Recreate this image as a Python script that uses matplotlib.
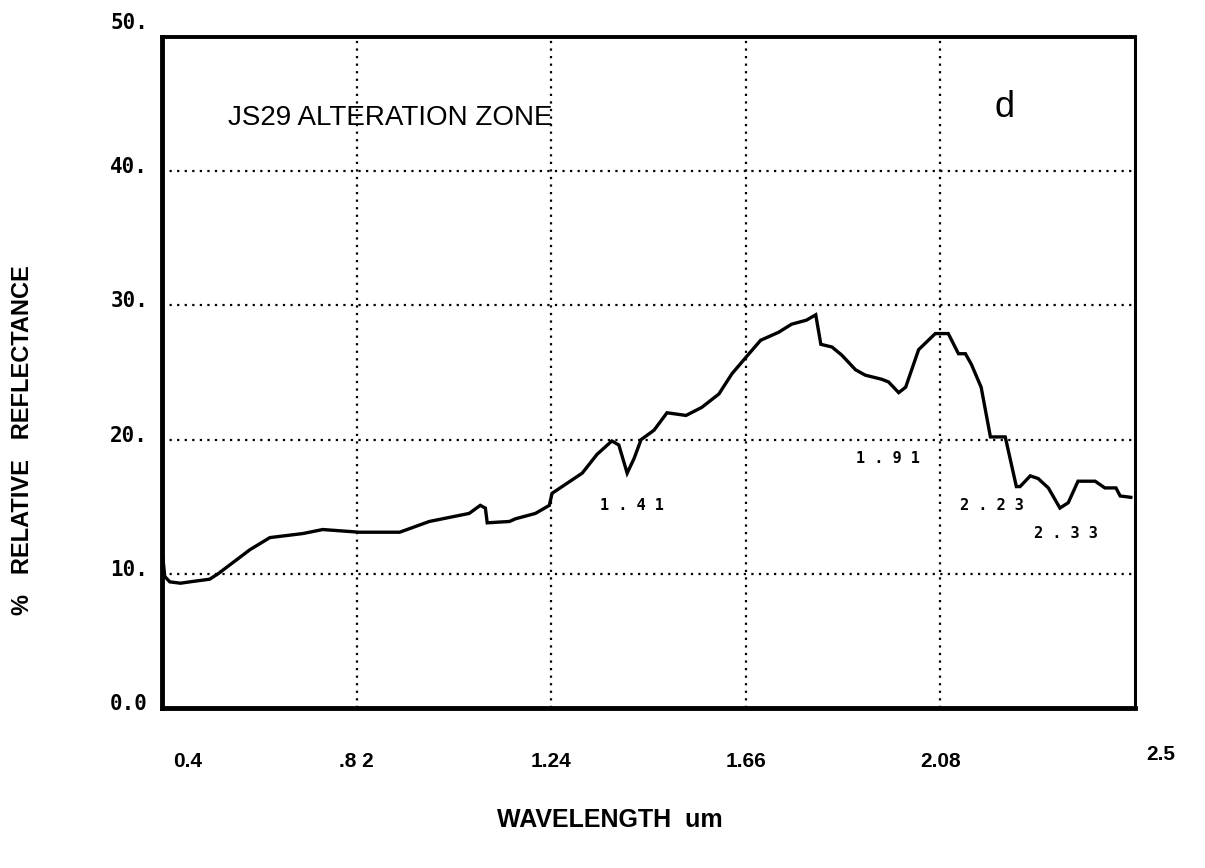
import matplotlib
matplotlib.use("Agg")
import matplotlib.pyplot as plt
import matplotlib.transforms as mtransforms

# Data (wavelength in um, % relative reflectance)
wavelength = [0.402, 0.406, 0.417, 0.440, 0.460, 0.503, 0.521, 0.590, 0.633, 0.704,
              0.747, 0.826, 0.913, 0.977, 1.063, 1.087, 1.098, 1.102, 1.150, 1.163,
              1.206, 1.236, 1.242, 1.307, 1.339, 1.371, 1.386, 1.404, 1.419, 1.434,
              1.462, 1.490, 1.531, 1.565, 1.602, 1.630, 1.662, 1.692, 1.731, 1.759,
              1.791, 1.811, 1.822, 1.846, 1.867, 1.897, 1.918, 1.953, 1.968, 1.990,
              2.005, 2.033, 2.069, 2.097, 2.119, 2.134, 2.147, 2.168, 2.188, 2.220,
              2.244, 2.252, 2.274, 2.291, 2.313, 2.338, 2.356, 2.377, 2.414, 2.435,
              2.459, 2.468, 2.491]
reflectance = [11.2, 9.8, 9.4, 9.3, 9.4, 9.6, 10.0, 11.8, 12.7, 13.0,
               13.3, 13.1, 13.1, 13.9, 14.5, 15.1, 14.9, 13.8, 13.9, 14.1,
               14.5, 15.1, 16.0, 17.5, 18.9, 19.9, 19.6, 17.5, 18.6, 20.0,
               20.7, 22.0, 21.8, 22.4, 23.4, 24.9, 26.2, 27.4, 28.0, 28.6,
               28.9, 29.3, 27.1, 26.9, 26.3, 25.2, 24.8, 24.5, 24.3, 23.5,
               23.9, 26.7, 27.9, 27.9, 26.4, 26.4, 25.6, 23.9, 20.2, 20.2,
               16.5, 16.5, 17.3, 17.1, 16.4, 14.9, 15.3, 16.9, 16.9, 16.4,
               16.4, 15.8, 15.7]

x_ticks = [0.4, 0.82, 1.24, 1.66, 2.08, 2.5]
x_tick_labels = ["0.4", ".8 2", "1.24", "1.66", "2.08", "2.5"]
y_ticks = [0, 10, 20, 30, 40, 50]
y_tick_labels = ["0.0", "10.", "20.", "30.", "40.", "50."]

feature_labels = ["1.41", "1.91", "2.23", "2.33"]
feature_pos = [(1.414, 15.1), (1.966, 18.6), (2.192, 15.1), (2.351, 13.0)]

fig = plt.figure(figsize=(12.05, 8.68), dpi=100)
ax = fig.add_axes([0.1344, 0.1843, 0.8075, 0.7731])

ax.plot(wavelength, reflectance, color="black", linewidth=2.4, solid_joinstyle="miter")

ax.set_xlim(0.4, 2.5)
ax.set_ylim(0, 50)

# grid lines (dotted)
for xv in x_ticks[1:-1]:
    ax.axvline(xv, color="black", linestyle=(0, (1, 2.4)), linewidth=1.6, zorder=0)
for yv in y_ticks[1:-1]:
    ax.axhline(yv, color="black", linestyle=(0, (1, 2.4)), linewidth=1.6, zorder=0)

ax.set_xticks(x_ticks)
ax.set_xticklabels(x_tick_labels, family="Liberation Sans", fontweight="bold", fontsize=15)
ax.set_yticks(y_ticks)
ax.set_yticklabels(y_tick_labels, family="DejaVu Sans Mono", fontweight="bold", fontsize=15)
ax.tick_params(axis="both", length=0)
ax.tick_params(axis="x", pad=32)
ax.tick_params(axis="y", pad=10)

# shift first/last x label as in the reference
labels = ax.get_xticklabels()
labels[0].set_transform(labels[0].get_transform() +
                        mtransforms.ScaledTranslation(0.26, 0, fig.dpi_scale_trans))
labels[-1].set_transform(labels[-1].get_transform() +
                         mtransforms.ScaledTranslation(0.26, 0.07, fig.dpi_scale_trans))
ylabs = ax.get_yticklabels()
for i, lab in enumerate(ylabs):
    dy = 0.16 if i == len(ylabs) - 1 else 0.06
    lab.set_transform(lab.get_transform() +
                      mtransforms.ScaledTranslation(0, dy, fig.dpi_scale_trans))

for side, lw in [("left", 3.5), ("bottom", 3.5), ("top", 2.8), ("right", 2.2)]:
    ax.spines[side].set_linewidth(lw)
    ax.spines[side].set_color("black")

ax.text(0.068, 0.879, "JS29 ALTERATION ZONE", transform=ax.transAxes,
        family="Liberation Sans", fontsize=20, ha="left", va="center")
ax.text(0.866, 0.895, "d", transform=ax.transAxes,
        family="Liberation Sans", fontsize=26, ha="center", va="center")

for lab, (xv, yv) in zip(feature_labels, feature_pos):
    ax.text(xv, yv, " ".join(lab), family="DejaVu Sans Mono", fontweight="bold",
            fontsize=11, ha="center", va="center")

fig.text(0.506, 0.055, "WAVELENGTH  um", family="Liberation Sans", fontsize=18,
         fontweight="bold", ha="center", va="center")
fig.text(0.019, 0.493, "%   RELATIVE   REFLECTANCE", family="Liberation Sans",
         fontsize=17, fontweight="bold", rotation=90, ha="center", va="center")

fig.savefig("out.png", dpi=100, facecolor="white")
